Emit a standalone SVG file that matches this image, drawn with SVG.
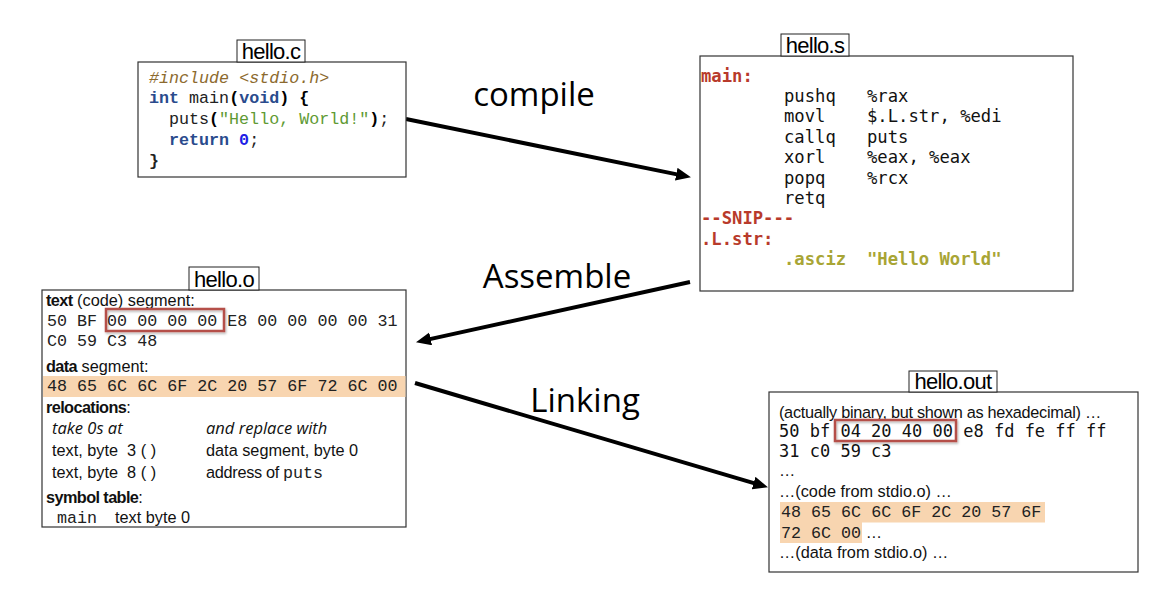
<svg xmlns="http://www.w3.org/2000/svg" width="1166" height="592" viewBox="0 0 1166 592">
<style>
.box{fill:#fff;stroke:#333;stroke-width:1.2}
.lbl{fill:#fff;stroke:#222;stroke-width:1}
.lt{font-family:"Liberation Sans",Arial,sans-serif;font-size:22px;letter-spacing:-0.7px;text-anchor:middle;fill:#000}
.cm{font-family:"Liberation Mono","Courier New",monospace;font-size:16.7px;fill:#222}
.dm{font-family:"DejaVu Sans Mono",monospace;font-size:17.2px;fill:#111}
.dm2{font-family:"DejaVu Sans Mono",monospace;font-size:17px;fill:#111}
.sn{font-family:"Liberation Sans",Arial,sans-serif;font-size:16.3px;fill:#111}
.hb{font-weight:bold;letter-spacing:-0.6px}
.it{font-family:"Open Sans",sans-serif;font-style:italic;font-size:16.5px;fill:#111}
.red{fill:#B83A2B;font-weight:bold}
.olv{fill:#A8A535;font-weight:bold}
.kw{fill:#2A4B8D;font-weight:bold}
.str{fill:#5E9A33}
.inc{fill:#8C6A2E;font-style:italic}
.hl{fill:#F8D5B0}
.rb{fill:none;stroke:#B5504A;stroke-width:2.5}
.arr{stroke:#000;stroke-width:4;fill:none}
.al{font-family:"Open Sans",sans-serif;font-size:33px;text-anchor:middle;fill:#000}
</style>
<defs>
<marker id="ah" markerUnits="userSpaceOnUse" markerWidth="16" markerHeight="14" refX="2" refY="6.5" orient="auto">
<path d="M0,0 L15,6.5 L0,13 z" fill="#000"/>
</marker>
<filter id="sh" x="-10%" y="-20%" width="120%" height="160%">
<feDropShadow dx="1" dy="1.5" stdDeviation="1.2" flood-color="#000" flood-opacity="0.3"/>
</filter>
</defs>

<g id="connectors">
<path class="arr" d="M406,119 L678.2,174.6" marker-end="url(#ah)"/>
<path class="arr" d="M690,282 L428.7,339.4" marker-end="url(#ah)"/>
<path class="arr" d="M415,383 L755.5,483.6" marker-end="url(#ah)"/>
<text class="al" x="534" y="106">compile</text>
<text class="al" x="557" y="288">Assemble</text>
<text class="al" x="585" y="412">Linking</text>
</g>

<g id="hello-c">
<rect class="box" x="138" y="62" width="268" height="115"/>
<rect class="lbl" x="237" y="40" width="68" height="22"/>
<text class="lt" x="271" y="59">hello.c</text>
<text class="cm inc" x="149" y="83">#include &lt;stdio.h&gt;</text>
<text class="cm" x="149" y="103" xml:space="preserve"><tspan class="kw">int</tspan> main<tspan font-weight="bold" fill="#000">(</tspan><tspan class="kw">void</tspan><tspan font-weight="bold" fill="#000">) {</tspan></text>
<text class="cm" x="169" y="124">puts<tspan font-weight="bold" fill="#000">(</tspan><tspan class="str">"Hello, World!"</tspan><tspan font-weight="bold" fill="#000">)</tspan>;</text>
<text class="cm" x="169" y="145" xml:space="preserve"><tspan class="kw">return</tspan> <tspan fill="#1E1EE6" font-weight="bold">0</tspan>;</text>
<text class="cm" x="149" y="166" font-weight="bold" fill="#000">}</text>
</g>

<g id="hello-s">
<rect class="box" x="700" y="56" width="373" height="235"/>
<rect class="lbl" x="781" y="34" width="68" height="22"/>
<text class="lt" x="815" y="53">hello.s</text>
<text class="dm red" x="701" y="81.5">main:</text>
<text class="dm" y="102"><tspan x="784">pushq</tspan><tspan x="867">%rax</tspan></text>
<text class="dm" y="122"><tspan x="784">movl</tspan><tspan x="867">$.L.str, %edi</tspan></text>
<text class="dm" y="142.5"><tspan x="784">callq</tspan><tspan x="867">puts</tspan></text>
<text class="dm" y="163"><tspan x="784">xorl</tspan><tspan x="867">%eax, %eax</tspan></text>
<text class="dm" y="183.5"><tspan x="784">popq</tspan><tspan x="867">%rcx</tspan></text>
<text class="dm" y="204"><tspan x="784">retq</tspan></text>
<text class="dm red" x="701" y="224">--SNIP---</text>
<text class="dm red" x="701" y="244.5">.L.str:</text>
<text class="dm olv" y="265"><tspan x="784">.asciz</tspan><tspan x="867">"Hello World"</tspan></text>
</g>

<g id="hello-o">
<rect class="box" x="42" y="290" width="364" height="237"/>
<rect class="lbl" x="189" y="267" width="70" height="23"/>
<text class="lt" x="224" y="287">hello.o</text>
<text class="sn" x="46" y="306"><tspan class="hb">text</tspan> (code) segment:</text>
<text class="cm" x="47" y="326">50 BF 00 00 00 00 E8 00 00 00 00 31</text>
<rect class="rb" x="106" y="309" width="118" height="22" filter="url(#sh)"/>
<text class="cm" x="47" y="346">C0 59 C3 48</text>
<text class="sn" x="46" y="372"><tspan class="hb">data</tspan> segment:</text>
<rect class="hl" x="43" y="376" width="362.5" height="21"/>
<text class="cm" x="47" y="391">48 65 6C 6C 6F 2C 20 57 6F 72 6C 00</text>
<text class="sn" x="46" y="413"><tspan class="hb">relocations</tspan>:</text>
<text class="it" x="52" y="434">take 0s at</text>
<text class="it" x="206" y="434">and replace with</text>
<text class="sn" x="52" y="456" xml:space="preserve">text, byte  3 ( )</text>
<text class="sn" x="206" y="456">data segment, byte 0</text>
<text class="sn" x="52" y="478" xml:space="preserve">text, byte  8 ( )</text>
<text class="sn" x="206" y="478" letter-spacing="-0.3">address of</text>
<text class="cm" x="283" y="478" fill="#333">puts</text>
<text class="sn" x="46" y="503"><tspan class="hb">symbol table</tspan>:</text>
<text class="cm" x="57" y="523" fill="#333">main</text>
<text class="sn" x="115" y="523">text byte 0</text>
</g>

<g id="hello-out">
<rect class="box" x="769" y="392" width="369" height="180"/>
<rect class="lbl" x="909" y="371" width="88" height="21"/>
<text class="lt" x="953" y="389">hello.out</text>
<text class="sn" x="779" y="418" letter-spacing="-0.3">(actually binary, but shown as hexadecimal) …</text>
<text class="dm2" x="779" y="437">50 bf 04 20 40 00 e8 fd fe ff ff</text>
<rect class="rb" x="835" y="420" width="121" height="21" filter="url(#sh)"/>
<text class="dm2" x="779" y="457">31 c0 59 c3</text>
<text class="sn" x="779" y="476">…</text>
<text class="sn" x="779" y="497">…(code from stdio.o) …</text>
<rect class="hl" x="780" y="502" width="265" height="20.5"/>
<rect class="hl" x="780" y="522" width="82" height="21"/>
<text class="cm" x="781" y="517">48 65 6C 6C 6F 2C 20 57 6F</text>
<text class="cm" x="781" y="538">72 6C 00<tspan class="sn"> …</tspan></text>
<text class="sn" x="779" y="558">…(data from stdio.o) …</text>
</g>
</svg>
